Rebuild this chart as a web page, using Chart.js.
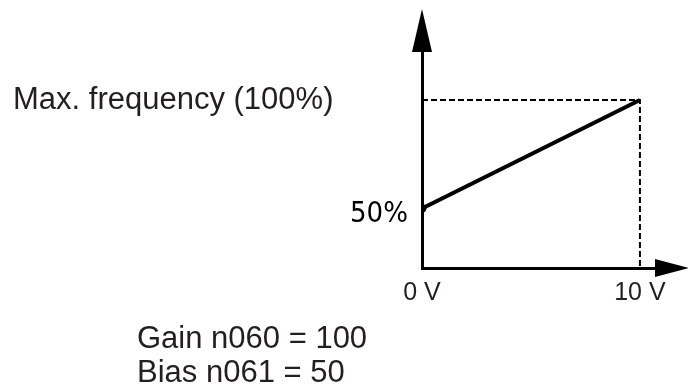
<!DOCTYPE html>
<html>
<head>
<meta charset="utf-8">
<script src="https://cdn.jsdelivr.net/npm/chart.js@4"></script>
<style>
  html, body { margin: 0; padding: 0; background: #fff; }
  #wrap { position: relative; width: 688px; height: 386px; }
</style>
</head>
<body>
<div id="wrap"><canvas id="chart"></canvas></div>
<script>
// Analog input -> output frequency (gain/bias setting)
const voltage = [0, 10];          // V
const outputPct = [50, 100];      // % of max frequency
const xTicks = [0, 10];
const yTicks = [50];
const maxLabel = "Max. frequency (100%)";
const paramLines = ["Gain n060 = 100", "Bias n061 = 50"];

const X_MAX = 11.38;
const Y_MIN = 22.5;
const Y_MAX = 131.6;
const TEXT = "#231f20";
const SANS = "'Liberation Sans', Arial, sans-serif";

// arrows on the axes plus the free text labels
const decorations = {
  id: "decorations",
  afterDraw(chart) {
    const { ctx, chartArea, scales } = chart;
    const left = chartArea.left, bottom = chartArea.bottom;
    ctx.save();
    ctx.fillStyle = "#000";
    // y axis arrow
    ctx.beginPath();
    ctx.moveTo(left, 9);
    ctx.lineTo(left + 10, 52);
    ctx.lineTo(left - 10, 52);
    ctx.closePath();
    ctx.fill();
    // x axis arrow
    ctx.beginPath();
    ctx.moveTo(689, bottom);
    ctx.lineTo(655, bottom - 9);
    ctx.lineTo(655, bottom + 9);
    ctx.closePath();
    ctx.fill();

    ctx.fillStyle = TEXT;
    ctx.font = "31px " + SANS;
    ctx.textAlign = "left";
    ctx.textBaseline = "alphabetic";
    ctx.fillText(maxLabel, 13, scales.y.getPixelForValue(outputPct[1]) + 9);
    paramLines.forEach((t, i) => ctx.fillText(t, 137, 348 + i * 34));
    ctx.restore();
  }
};

new Chart(document.getElementById("chart"), {
  type: "line",
  data: {
    datasets: [
      {
        data: voltage.map((v, i) => ({ x: v, y: outputPct[i] })),
        borderColor: "#000",
        backgroundColor: "#000",
        borderWidth: 4,
        pointRadius: [4.5, 0],
        pointBorderWidth: 0,
        tension: 0
      },
      {
        // guides to the 100 % / 10 V corner
        data: [
          { x: xTicks[0], y: outputPct[1] },
          { x: voltage[1], y: outputPct[1] },
          { x: voltage[1], y: Y_MIN }
        ],
        borderColor: "#000",
        borderWidth: 2,
        borderDash: [6, 3],
        pointRadius: 0,
        tension: 0
      }
    ]
  },
  options: {
    responsive: true,
    maintainAspectRatio: false,
    animation: false,
    layout: { padding: { left: 0, right: 18, top: 30, bottom: 0 } },
    plugins: { legend: { display: false }, tooltip: { enabled: false } },
    scales: {
      x: {
        type: "linear",
        min: 0,
        max: X_MAX,
        afterBuildTicks: (s) => { s.ticks = xTicks.map(v => ({ value: v })); },
        afterFit: (s) => { s.height = 118; },
        grid: { display: false, drawTicks: false },
        border: { display: true, color: "#000", width: 3 },
        ticks: {
          padding: 10,
          color: TEXT,
          font: { family: SANS, size: 25 },
          maxRotation: 0,
          autoSkip: false,
          callback: (v) => v + " V"
        }
      },
      y: {
        type: "linear",
        min: Y_MIN,
        max: Y_MAX,
        afterBuildTicks: (s) => { s.ticks = yTicks.map(v => ({ value: v })); },
        afterFit: (s) => { s.width = 422; },
        grid: { display: false, drawTicks: false },
        border: { display: true, color: "#000", width: 3 },
        ticks: {
          padding: 14,
          labelOffset: 6,
          color: "#000",
          font: { family: "'DejaVu Sans Condensed', 'Liberation Sans Narrow', sans-serif", size: 29 },
          autoSkip: false,
          callback: (v) => v + "%"
        }
      }
    }
  },
  plugins: [decorations]
});
</script>
</body>
</html>
